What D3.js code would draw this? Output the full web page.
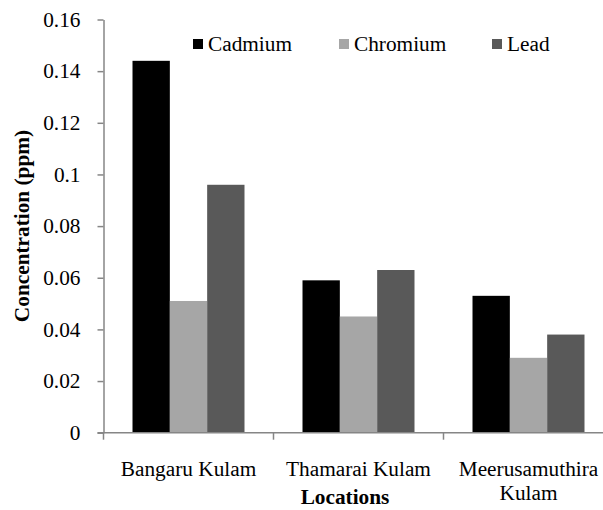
<!DOCTYPE html>
<html>
<head>
<meta charset="utf-8">
<script src="https://cdn.jsdelivr.net/npm/d3@7"></script>
<style>
  html, body { margin: 0; padding: 0; background: #fff; }
</style>
</head>
<body>
<svg id="chart" width="603" height="510" font-family="Liberation Serif"></svg>
<script>
const categories = ["Bangaru Kulam", "Thamarai Kulam", "Meerusamuthira Kulam"];
const categoryLines = [["Bangaru Kulam"], ["Thamarai Kulam"], ["Meerusamuthira", "Kulam"]];
const seriesNames = ["Cadmium", "Chromium", "Lead"];
const cadmium = [0.144, 0.059, 0.053];
const chromium = [0.051, 0.045, 0.029];
const lead = [0.096, 0.063, 0.038];
const seriesColors = ["#000000", "#a6a6a6", "#595959"];
const yTicks = [0, 0.02, 0.04, 0.06, 0.08, 0.1, 0.12, 0.14, 0.16];
const yTickLabels = ["0", "0.02", "0.04", "0.06", "0.08", "0.1", "0.12", "0.14", "0.16"];

const seriesValues = [cadmium, chromium, lead];
const svg = d3.select("#chart");
const axisColor = "#868686";
const fontSize = 21.3;
const FONT = "Liberation Serif";

const plotLeft = 103.5, plotTop = 19.5, plotBottom = 432.7;
const x = d3.scaleBand().domain(categories).range([plotLeft, plotLeft + 510]).padding(0);
const xs = d3.scaleBand().domain(seriesNames).range([0, x.bandwidth()]).paddingInner(0).paddingOuter(0.777);
const y = d3.scaleLinear().domain([0, 0.16]).range([plotBottom, plotTop]);

// bars
seriesNames.forEach((s, si) => {
  svg.append("g").selectAll("rect")
    .data(categories.map((c, ci) => ({c, v: seriesValues[si][ci]})))
    .join("rect")
    .attr("x", d => x(d.c) + xs(s))
    .attr("y", d => y(d.v))
    .attr("width", xs.bandwidth())
    .attr("height", d => y(0) - y(d.v))
    .attr("fill", seriesColors[si]);
});

// y axis
const yAxis = d3.axisLeft(y).tickValues(yTicks)
  .tickFormat((d, i) => yTickLabels[i]).tickSize(6).tickSizeOuter(0).tickPadding(17);
const gy = svg.append("g").attr("transform", `translate(${plotLeft},0)`).call(yAxis)
  .attr("font-family", FONT).attr("font-size", fontSize);
gy.selectAll("path, line").attr("stroke", axisColor).attr("stroke-width", 1.5);
gy.selectAll("text").attr("font-family", FONT).attr("font-size", fontSize).attr("fill", "#000");

// x axis
const gx = svg.append("g");
gx.append("line").attr("x1", plotLeft - 6).attr("x2", 603).attr("y1", plotBottom).attr("y2", plotBottom)
  .attr("stroke", axisColor).attr("stroke-width", 1.5);
const bounds = categories.map(c => x(c)).concat([x(categories[categories.length - 1]) + x.bandwidth()]);
gx.selectAll("line.tick").data(bounds).join("line").attr("class", "tick")
  .attr("x1", d => d).attr("x2", d => d).attr("y1", plotBottom).attr("y2", plotBottom + 7)
  .attr("stroke", axisColor).attr("stroke-width", 1.5);
categories.forEach((c, i) => {
  const t = gx.append("text").attr("text-anchor", "middle").attr("font-family", FONT)
    .attr("x", x(c) + x.bandwidth() / 2).attr("y", 476).attr("font-size", fontSize);
  categoryLines[i].forEach((ln, li) => {
    t.append("tspan").attr("x", x(c) + x.bandwidth() / 2).attr("y", 476 + li * 24).text(ln);
  });
});

// axis titles
svg.append("text").attr("x", 345).attr("y", 504).attr("text-anchor", "middle").attr("font-family", FONT)
  .attr("font-size", fontSize).attr("font-weight", "bold").text("Locations");
svg.append("text").attr("transform", "translate(29,226) rotate(-90)").attr("text-anchor", "middle").attr("font-family", FONT)
  .attr("font-size", fontSize).attr("font-weight", "bold").text("Concentration (ppm)");

// legend
const legendX = [193, 339, 492];
const lg = svg.append("g");
seriesNames.forEach((s, i) => {
  lg.append("rect").attr("x", legendX[i]).attr("y", 39).attr("width", 10).attr("height", 10).attr("fill", seriesColors[i]);
  lg.append("text").attr("x", legendX[i] + 15).attr("y", 51).attr("font-family", FONT).attr("font-size", fontSize).text(s);
});
</script>
</body>
</html>
